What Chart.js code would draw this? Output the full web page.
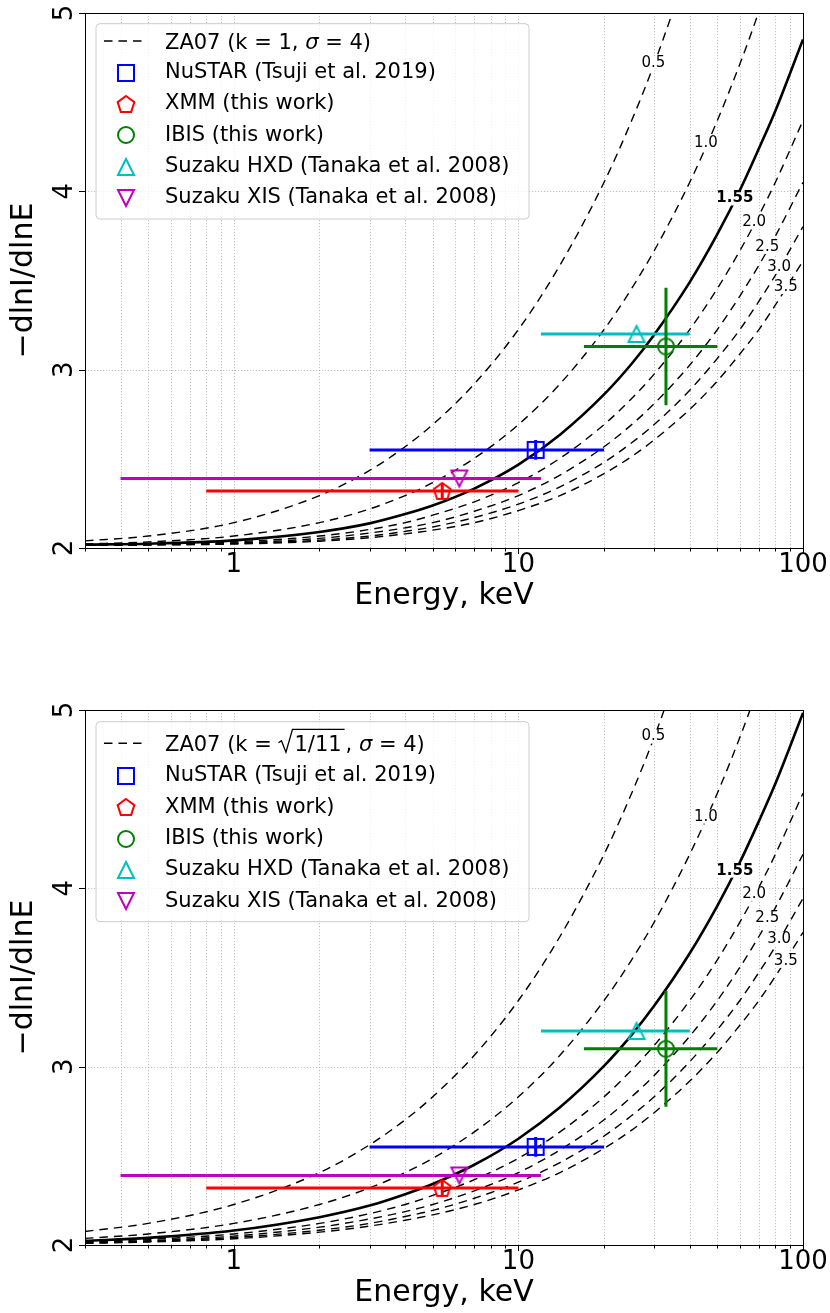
<!DOCTYPE html>
<html>
<head>
<meta charset="utf-8">
<script src="https://cdn.jsdelivr.net/npm/chart.js@4.4.1/dist/chart.umd.min.js"></script>
<style>
  html, body { margin: 0; padding: 0; background: #fff; overflow: hidden; }
  canvas { position: absolute; left: 0; }
  #upper { top: 0; }
  #lower { top: 697px; }
</style>
</head>
<body>
<canvas id="upper" width="830" height="616"></canvas>
<canvas id="lower" width="830" height="616"></canvas>
<script>
// model curves, -dlnI/dlnE against energy (keV), one array per cutoff label
const energy = [0.3, 0.5, 1, 2, 3, 4, 5, 7, 10, 14, 20, 25, 30, 40, 50, 60, 70, 80, 100];
const modelLabels = ['0.5', '1.0', '1.55', '2.0', '2.5', '3.0', '3.5'];

// upper panel: k = 1
const upper05 = [2.040, 2.067, 2.142, 2.294, 2.435, 2.568, 2.692, 2.920, 3.225, 3.586, 4.051, 4.397, 4.714, 5.284, null, null, null, null, null];
const upper10 = [2.023, 2.034, 2.067, 2.142, 2.219, 2.294, 2.366, 2.503, 2.692, 2.920, 3.225, 3.455, 3.667, 4.051, 4.397, 4.714, 5.008, 5.284, null];
const upper155 = [2.019, 2.024, 2.043, 2.090, 2.138, 2.190, 2.238, 2.333, 2.467, 2.635, 2.861, 3.033, 3.196, 3.491, 3.760, 4.006, 4.240, 4.452, 4.852];
const upper20 = [2.017, 2.021, 2.034, 2.067, 2.104, 2.142, 2.184, 2.259, 2.366, 2.503, 2.692, 2.838, 2.975, 3.225, 3.455, 3.667, 3.865, 4.051, 4.397];
const upper25 = [2.016, 2.019, 2.028, 2.054, 2.084, 2.113, 2.142, 2.206, 2.294, 2.409, 2.568, 2.692, 2.809, 3.026, 3.225, 3.413, 3.586, 3.750, 4.051];
const upper30 = [2.016, 2.018, 2.025, 2.044, 2.067, 2.093, 2.118, 2.171, 2.246, 2.343, 2.481, 2.590, 2.692, 2.885, 3.063, 3.225, 3.384, 3.530, 3.802];
const upper35 = [2.015, 2.017, 2.022, 2.038, 2.058, 2.079, 2.100, 2.142, 2.210, 2.294, 2.417, 2.513, 2.606, 2.778, 2.936, 3.088, 3.225, 3.363, 3.610];

// lower panel: k = sqrt(1/11)
const lower05 = [2.076, 2.121, 2.227, 2.406, 2.562, 2.702, 2.831, 3.064, 3.371, 3.730, 4.191, 4.533, 4.847, 5.410, null, null, null, null, null];
const lower10 = [2.037, 2.062, 2.121, 2.227, 2.320, 2.406, 2.486, 2.634, 2.831, 3.064, 3.371, 3.599, 3.810, 4.191, 4.533, 4.847, 5.137, null, null];
const lower155 = [2.023, 2.040, 2.081, 2.156, 2.221, 2.285, 2.342, 2.450, 2.596, 2.772, 3.004, 3.178, 3.341, 3.636, 3.902, 4.146, 4.377, 4.588, 4.984];
const lower20 = [2.017, 2.031, 2.062, 2.121, 2.176, 2.227, 2.278, 2.366, 2.486, 2.634, 2.831, 2.981, 3.119, 3.371, 3.599, 3.810, 4.006, 4.191, 4.533];
const lower25 = [2.014, 2.024, 2.050, 2.100, 2.146, 2.187, 2.227, 2.304, 2.406, 2.533, 2.702, 2.831, 2.951, 3.171, 3.371, 3.557, 3.730, 3.892, 4.191];
const lower30 = [2.011, 2.020, 2.042, 2.083, 2.121, 2.160, 2.194, 2.262, 2.352, 2.462, 2.611, 2.726, 2.831, 3.028, 3.207, 3.371, 3.529, 3.674, 3.944];
const lower35 = [2.009, 2.017, 2.035, 2.072, 2.106, 2.139, 2.169, 2.227, 2.309, 2.406, 2.542, 2.644, 2.742, 2.919, 3.080, 3.232, 3.371, 3.507, 3.753];

// where the curve labels sit
const labelEnergy = [29.8, 45.6, 57.6, 67.3, 74.9, 82.4, 87.0];
const upperLabelIdx = [4.717, 4.268, 3.960, 3.828, 3.688, 3.576, 3.464];
const lowerLabelIdx = [4.851, 4.402, 4.099, 3.969, 3.832, 3.715, 3.593];

// measurements
const instruments = ['NuSTAR (Tsuji et al. 2019)', 'XMM (this work)', 'IBIS (this work)', 'Suzaku HXD (Tanaka et al. 2008)', 'Suzaku XIS (Tanaka et al. 2008)'];
const pointE = [11.5, 5.4, 33, 26, 6.2];
const pointElo = [3, 0.8, 17, 12, 0.4];
const pointEhi = [20, 10, 50, 40, 12];
const upperPointIdx = [2.55, 2.32, 3.13, 3.20, 2.39];
const lowerPointIdx = [2.55, 2.32, 3.10, 3.20, 2.39];
const upperPointErr = [0.055, 0.045, 0.33, 0, 0];
const lowerPointErr = [0.055, 0.045, 0.325, 0, 0];

// axes
const energyTicks = [0.3, 0.4, 0.5, 0.6, 0.7, 0.8, 0.9, 1, 2, 3, 4, 5, 6, 7, 8, 9, 10, 20, 30, 40, 50, 60, 70, 80, 90, 100];
const energyLabels = [1, 10, 100];
const indexTicks = [2, 3, 4, 5];

const FONT = '"DejaVu Sans"';
const markerShapes = ['square', 'pentagon', 'circle', 'up', 'down'];
const markerColors = ['#0000ff', '#ff0000', '#008000', '#00bfbf', '#bf00bf'];

function makeMarker(shape, color) {
    const c = document.createElement('canvas');
    c.width = 26;
    c.height = 26;
    const g = c.getContext('2d');
    const m = 13;
    g.strokeStyle = color;
    g.lineWidth = 2;
    g.beginPath();
    if (shape === 'square') {
        g.rect(m - 8, m - 8, 16, 16);
    } else if (shape === 'circle') {
        g.arc(m, m, 8, 0, Math.PI * 2);
    } else if (shape === 'up') {
        g.moveTo(m, m - 8); g.lineTo(m + 8, m + 8); g.lineTo(m - 8, m + 8); g.closePath();
    } else if (shape === 'down') {
        g.moveTo(m, m + 8); g.lineTo(m + 8, m - 8); g.lineTo(m - 8, m - 8); g.closePath();
    } else {
        for (let i = 0; i < 5; i++) {
            const a = -Math.PI / 2 + i * 2 * Math.PI / 5;
            const px = m + 8.8 * Math.cos(a), py = m + 0.8 + 8.8 * Math.sin(a);
            if (i === 0) g.moveTo(px, py); else g.lineTo(px, py);
        }
        g.closePath();
    }
    g.stroke();
    return c;
}
const markers = markerShapes.map((s, i) => makeMarker(s, markerColors[i]));

// dotted grid, drawn under the datasets
const dottedGrid = {
    id: 'dottedGrid',
    beforeDatasetsDraw(chart) {
        const {ctx, chartArea: a, scales: {x, y}} = chart;
        ctx.save();
        ctx.strokeStyle = '#b0b0b0';
        ctx.lineWidth = 0.8;
        ctx.setLineDash([1.2, 1.8]);
        ctx.beginPath();
        energyTicks.forEach(v => {
            const px = Math.round(x.getPixelForValue(v)) + 0.5;
            ctx.moveTo(px, a.top);
            ctx.lineTo(px, a.bottom);
        });
        indexTicks.forEach(v => {
            const py = Math.round(y.getPixelForValue(v)) + 0.5;
            ctx.moveTo(a.left, py);
            ctx.lineTo(a.right, py);
        });
        ctx.stroke();
        ctx.restore();
    }
};

const errorBars = {
    id: 'errorBars',
    beforeDatasetDraw(chart, args) {
        const ds = chart.data.datasets[args.index];
        if (!ds.errorBar) return;
        const {ctx, chartArea: a, scales: {x, y}} = chart;
        const e = ds.errorBar;
        const p = ds.data[0];
        const py = y.getPixelForValue(p.y);
        const px = x.getPixelForValue(p.x);
        ctx.save();
        ctx.beginPath();
        ctx.rect(a.left, a.top, a.right - a.left, a.bottom - a.top);
        ctx.clip();
        ctx.strokeStyle = e.color;
        ctx.lineWidth = 3;
        ctx.beginPath();
        ctx.moveTo(x.getPixelForValue(e.lo), py);
        ctx.lineTo(x.getPixelForValue(e.hi), py);
        if (e.err > 0) {
            ctx.moveTo(px, y.getPixelForValue(p.y - e.err));
            ctx.lineTo(px, y.getPixelForValue(p.y + e.err));
        }
        ctx.stroke();
        ctx.restore();
    }
};

const curveLabels = {
    id: 'curveLabels',
    afterDatasetsDraw(chart, args, opts) {
        const {ctx, scales: {x, y}} = chart;
        ctx.save();
        ctx.textAlign = 'center';
        ctx.textBaseline = 'middle';
        modelLabels.forEach((t, i) => {
            const px = x.getPixelForValue(labelEnergy[i]);
            const py = y.getPixelForValue(opts.values[i]);
            ctx.font = (t === '1.55' ? 'bold ' : '') + '15px ' + FONT;
            const w = ctx.measureText(t).width;
            ctx.fillStyle = '#fff';
            ctx.fillRect(px - w / 2 - 1, py - 7, w + 2, 14);
            ctx.fillStyle = '#000';
            ctx.fillText(t, px, py);
        });
        ctx.restore();
    }
};

function drawTitleRow(ctx, x, y, sqrtForm) {
    const base = y + 7.5;
    ctx.textBaseline = 'alphabetic';
    ctx.textAlign = 'left';
    const put = (t, italic) => {
        ctx.font = (italic ? 'oblique ' : '') + '21px ' + FONT;
        ctx.fillText(t, x, base);
        x += ctx.measureText(t).width;
    };
    if (!sqrtForm) {
        put('ZA07 (k = 1, ');
    } else {
        put('ZA07 (k = ');
        ctx.font = '21px ' + FONT;
        const inner = '1/11';
        const w = ctx.measureText(inner).width;
        const barY = base - 21.5;
        ctx.lineWidth = 1.3;
        ctx.beginPath();
        ctx.moveTo(x, base - 8);
        ctx.lineTo(x + 3, base - 10);
        ctx.lineTo(x + 7.5, base + 1.5);
        ctx.lineTo(x + 14, barY);
        ctx.lineTo(x + 17 + w + 2, barY);
        ctx.stroke();
        ctx.fillText(inner, x + 16, base);
        x += 17 + w + 3;
        put(', ');
    }
    put('σ', true);
    put(' = 4)');
}

const legendBox = {
    id: 'legendBox',
    afterDraw(chart, args, opts) {
        const {ctx, chartArea: a} = chart;
        const left = a.left + 11, top = a.top + opts.boxTop, w = 433, h = opts.boxHeight, r = 4;
        ctx.save();
        ctx.beginPath();
        ctx.moveTo(left + r, top);
        ctx.arcTo(left + w, top, left + w, top + h, r);
        ctx.arcTo(left + w, top + h, left, top + h, r);
        ctx.arcTo(left, top + h, left, top, r);
        ctx.arcTo(left, top, left + w, top, r);
        ctx.closePath();
        ctx.fillStyle = 'rgba(255,255,255,0.8)';
        ctx.fill();
        ctx.strokeStyle = '#cccccc';
        ctx.lineWidth = 1;
        ctx.stroke();

        const titleY = a.top + opts.titleY;
        ctx.strokeStyle = '#000';
        ctx.lineWidth = 1.4;
        ctx.setLineDash([8.5, 6]);
        ctx.beginPath();
        ctx.moveTo(a.left + 19, titleY);
        ctx.lineTo(a.left + 62, titleY);
        ctx.stroke();
        ctx.setLineDash([]);
        ctx.fillStyle = '#000';
        drawTitleRow(ctx, a.left + 80, titleY, opts.sqrtForm);

        ctx.font = '21px ' + FONT;
        ctx.textBaseline = 'middle';
        ctx.textAlign = 'left';
        instruments.forEach((name, i) => {
            const ry = a.top + opts.firstRow + i * 31.3;
            ctx.drawImage(markers[i], a.left + 41 - 13, Math.round(ry) - 13);
            ctx.fillText(name, a.left + 80, ry);
        });
        ctx.restore();
    }
};

const axisExtras = {
    id: 'axisExtras',
    afterDraw(chart) {
        const {ctx, chartArea: a, scales: {x, y}} = chart;
        ctx.save();
        ctx.strokeStyle = '#000';
        ctx.lineWidth = 1;
        ctx.strokeRect(Math.round(a.left) + 0.5, Math.round(a.top) + 0.5, Math.round(a.right - a.left), Math.round(a.bottom - a.top));
        ctx.beginPath();
        energyTicks.forEach(v => {
            const px = Math.round(x.getPixelForValue(v)) + 0.5;
            const len = energyLabels.includes(v) ? 6 : 3.5;
            ctx.moveTo(px, a.bottom);
            ctx.lineTo(px, a.bottom + len);
        });
        indexTicks.forEach(v => {
            const py = Math.round(y.getPixelForValue(v)) + 0.5;
            ctx.moveTo(a.left, py);
            ctx.lineTo(a.left - 6, py);
        });
        ctx.stroke();
        ctx.fillStyle = '#000';
        ctx.font = '26px ' + FONT;
        ctx.textAlign = 'center';
        ctx.textBaseline = 'alphabetic';
        indexTicks.forEach(v => {
            ctx.save();
            ctx.translate(a.left - 13, y.getPixelForValue(v));
            ctx.rotate(-Math.PI / 2);
            ctx.fillText(String(v), 0, 0);
            ctx.restore();
        });
        ctx.restore();
    }
};

function makeChart(id, curves, labelValues, pointIdx, pointErr, legendOpts) {
    const datasets = [];
    instruments.forEach((name, i) => {
        datasets.push({
            label: name,
            data: [{x: pointE[i], y: pointIdx[i]}],
            pointStyle: markers[i],
            pointRadius: 9,
            showLine: false,
            order: 0,
            errorBar: {lo: pointElo[i], hi: pointEhi[i], err: pointErr[i], color: markerColors[i]}
        });
    });
    curves.forEach((vals, j) => {
        const solid = modelLabels[j] === '1.55';
        datasets.push({
            label: 'ZA07 ' + modelLabels[j],
            data: energy.map((e, k) => ({x: e, y: vals[k]})).filter(p => p.y !== null),
            showLine: true,
            fill: false,
            borderColor: '#000',
            borderWidth: solid ? 2.6 : 1.4,
            borderDash: solid ? [] : [8.5, 6],
            pointRadius: 0,
            cubicInterpolationMode: 'monotone',
            order: 1
        });
    });

    return new Chart(document.getElementById(id), {
        type: 'scatter',
        data: {datasets},
        plugins: [dottedGrid, errorBars, curveLabels, legendBox, axisExtras],
        options: {
            responsive: false,
            devicePixelRatio: 1,
            animation: false,
            events: [],
            layout: {padding: {left: 0, top: 13, right: 27, bottom: 0}},
            plugins: {
                legend: {display: false},
                tooltip: {enabled: false},
                curveLabels: {values: labelValues},
                legendBox: legendOpts
            },
            scales: {
                x: {
                    type: 'logarithmic',
                    min: 0.3,
                    max: 100,
                    afterBuildTicks: s => { s.ticks = energyTicks.map(v => ({value: v})); },
                    afterFit: s => { s.height = 68; },
                    grid: {display: false, drawTicks: false},
                    border: {display: true, color: '#000', width: 1},
                    ticks: {
                        autoSkip: false,
                        maxRotation: 0,
                        padding: 2,
                        color: '#000',
                        font: {family: 'DejaVu Sans', size: 26},
                        callback: v => energyLabels.includes(v) ? String(v) : ''
                    },
                    title: {
                        display: true,
                        text: 'Energy, keV',
                        color: '#000',
                        font: {family: 'DejaVu Sans', size: 30},
                        padding: {top: 0, bottom: 2}
                    }
                },
                y: {
                    type: 'linear',
                    min: 2,
                    max: 5,
                    afterFit: s => { s.width = 85; },
                    grid: {display: false, drawTicks: false},
                    border: {display: true, color: '#000', width: 1},
                    ticks: {stepSize: 1, display: false},
                    title: {
                        display: true,
                        text: '\u2212dlnI/dlnE',
                        color: '#000',
                        font: {family: 'DejaVu Sans', size: 30},
                        padding: {top: 6, bottom: 0}
                    }
                }
            }
        }
    });
}

makeChart('upper',
    [upper05, upper10, upper155, upper20, upper25, upper30, upper35],
    upperLabelIdx, upperPointIdx, upperPointErr,
    {boxTop: 10.7, boxHeight: 195.3, titleY: 28, firstRow: 59.7, sqrtForm: false});

makeChart('lower',
    [lower05, lower10, lower155, lower20, lower25, lower30, lower35],
    lowerLabelIdx, lowerPointIdx, lowerPointErr,
    {boxTop: 11.7, boxHeight: 200, titleY: 33.3, firstRow: 66, sqrtForm: true});
</script>
</body>
</html>
